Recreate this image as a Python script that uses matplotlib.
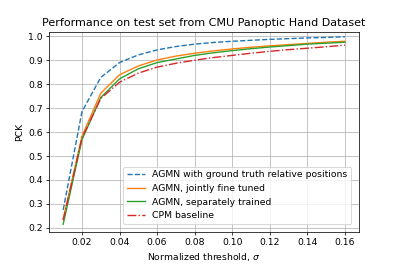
import matplotlib
matplotlib.use("Agg")
import matplotlib.pyplot as plt

thresholds = [0.01, 0.02, 0.03, 0.04, 0.05, 0.06, 0.07, 0.08, 0.09, 0.10, 0.11, 0.12, 0.13, 0.14, 0.15, 0.16]
gt_relative = [0.275, 0.685, 0.828, 0.89, 0.922, 0.943, 0.957, 0.967, 0.974, 0.979, 0.983, 0.987, 0.990, 0.993, 0.995, 0.998]
jointly = [0.237, 0.582, 0.762, 0.839, 0.876, 0.901, 0.917, 0.929, 0.939, 0.947, 0.954, 0.960, 0.965, 0.970, 0.975, 0.979]
separately = [0.215, 0.568, 0.744, 0.822, 0.864, 0.890, 0.905, 0.920, 0.931, 0.940, 0.948, 0.955, 0.961, 0.967, 0.971, 0.975]
cpm = [0.232, 0.575, 0.740, 0.808, 0.846, 0.871, 0.887, 0.900, 0.911, 0.920, 0.929, 0.937, 0.944, 0.950, 0.956, 0.963]

labels = ["AGMN with ground truth relative positions",
          "AGMN, jointly fine tuned",
          "AGMN, separately trained",
          "CPM baseline"]

fig = plt.figure(figsize=(6, 4), dpi=66.5)
ax = fig.add_axes([0.123, 0.128, 0.777, 0.752])
ax.plot(thresholds, gt_relative, "--", color="#1f77b4", label=labels[0])
ax.plot(thresholds, jointly, "-", color="#ff7f0e", label=labels[1])
ax.plot(thresholds, separately, "-", color="#2ca02c", label=labels[2])
ax.plot(thresholds, cpm, "-.", color="#d62728", label=labels[3])
ax.set_ylim(0.183, 1.018)
ax.set_xticks([0.02, 0.04, 0.06, 0.08, 0.10, 0.12, 0.14, 0.16])
ax.grid(True)
ax.set_title("Performance on test set from CMU Panoptic Hand Dataset")
ax.set_xlabel("Normalized threshold, $\\sigma$")
ax.set_ylabel("PCK")
ax.legend(loc="lower right", bbox_to_anchor=(0.975, 0.04), borderaxespad=0)
fig.savefig("out.png", dpi=66.5)
